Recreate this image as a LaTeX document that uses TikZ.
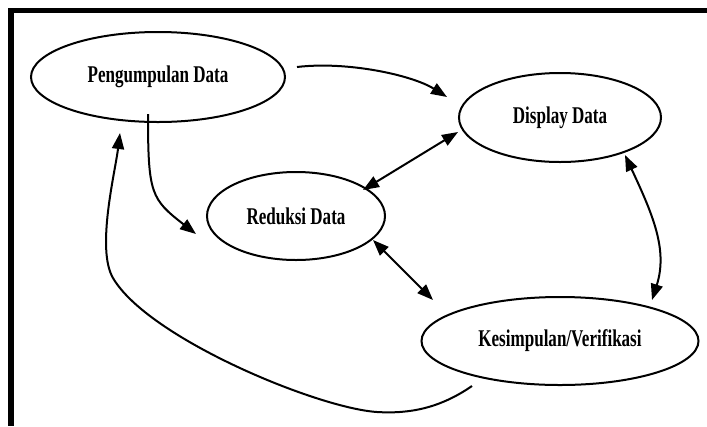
\documentclass[tikz,border=0pt]{standalone}
\usepackage{fontspec}
\newfontfamily\diagfont{Liberation Serif}[FakeStretch=0.71]
\usetikzlibrary{shapes.geometric,arrows.meta,calc}

\tikzset{every picture/.style={line width=1.5pt}}
\tikzset{
  proses/.style={draw, ellipse, inner sep=0pt, font=\diagfont\bfseries\fontsize{18}{21}\selectfont},
  panah/.style={-{Triangle[length=12pt,width=9pt]}},
  panahdua/.style={{Triangle[length=12pt,width=9pt]}-{Triangle[length=12pt,width=9pt]}},
}

\begin{document}
\begin{tikzpicture}[x=0.75pt,y=0.75pt,yscale=-1,xscale=1]
\useasboundingbox (0,0) rectangle (707,426);

%Frame
\draw [line width=4.1pt, line join=miter] (707,10.5) -- (11,10.5) -- (11,426) ;

% Ellipse Nodes
\node [proses, minimum width=190.5pt, minimum height=67.5pt] (pengumpulan) at (158,77) {Pengumpulan Data};
\node [proses, minimum width=151.5pt, minimum height=66.75pt] (display) at (560,117.5) {Display Data};
\node [proses, minimum width=133.5pt, minimum height=66pt] (reduksi) at (296,216) {Reduksi Data};
\node [proses, minimum width=207.75pt, minimum height=66pt] (kesimpulan) at (560,341) {Kesimpulan/Verifikasi};

%Curve Lines
\draw [panah] ($(pengumpulan)+(139,-10)$) .. controls +(50,-6) and +(-35,-22) .. ($(display)+(-113,-20.5)$) ;
\draw [panah] ($(pengumpulan)+(-10,37)$) .. controls +(0,80) and +(-45,-35) .. ($(reduksi)+(-100,18)$) ;
%Straight Lines
\draw [panahdua] ($(reduksi)+(67,-26)$) -- ($(display)+(-102,14.5)$) ;
\draw [panahdua] ($(reduksi)+(77,24)$) -- ($(kesimpulan)+(-127,-41)$) ;
%Curve Lines
\draw [panahdua] ($(display)+(65,37.5)$) .. controls +(28,60) and +(16,-50) .. ($(kesimpulan)+(92,-41)$) ;
\draw [panah] ($(kesimpulan)+(-88,45)$) .. controls +(-32,22) and +(33,2) .. (377,412)
  .. controls +(-60,-4) and +(35,60) .. (113,278)
  .. controls +(-17,-29) and +(-5,40) .. ($(pengumpulan)+(-38,56)$) ;

\end{tikzpicture}
\end{document}
